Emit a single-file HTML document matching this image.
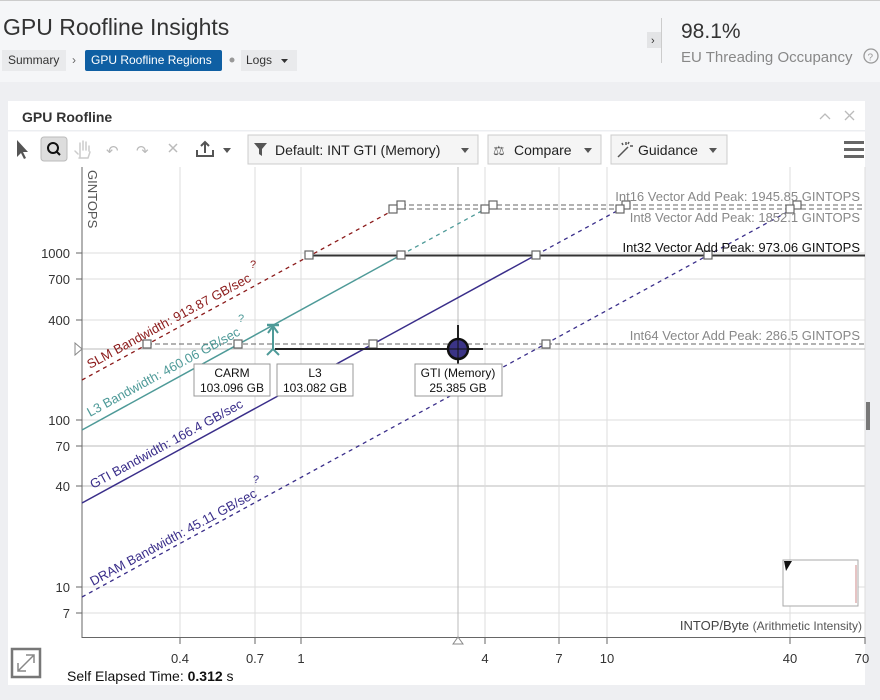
<!DOCTYPE html>
<html><head><meta charset="utf-8"><style>
body{margin:0;width:880px;height:695px;overflow:hidden;background:#eeeff2;font-family:"Liberation Sans",sans-serif;}
</style></head><body>
<svg width="880" height="695" xmlns="http://www.w3.org/2000/svg" font-family="Liberation Sans, sans-serif">
<rect x="0" y="0" width="880" height="82" fill="#f5f6f8"/>
<rect x="0" y="0" width="880" height="1" fill="#ccc"/>
<text x="3" y="35" font-size="23" fill="#333">GPU Roofline Insights</text>
<rect x="2" y="50" width="64" height="21" fill="#e9eaec"/>
<text x="8" y="64" font-size="12" fill="#333">Summary</text>
<text x="72" y="64" font-size="12" fill="#666">›</text>
<rect x="85" y="50" width="137" height="21" rx="2" fill="#0f5fa3"/>
<text x="91" y="64" font-size="12" fill="#fff">GPU Roofline Regions</text>
<circle cx="232" cy="60" r="2.5" fill="#999"/>
<rect x="241" y="50" width="56" height="21" fill="#e9eaec"/>
<text x="246" y="64" font-size="12" fill="#333">Logs</text>
<path d="M281 59 h7 l-3.5 4z" fill="#333"/>
<rect x="647" y="32" width="14" height="16" fill="#e3e4e6"/>
<text x="651" y="44" font-size="11" fill="#333">›</text>
<rect x="661" y="18" width="1" height="45" fill="#ccc"/>
<text x="681" y="38" font-size="21" fill="#333">98.1%</text>
<text x="681" y="62" font-size="15" fill="#888">EU Threading Occupancy</text>
<circle cx="871" cy="56" r="7" fill="none" stroke="#999" stroke-width="1.3"/>
<text x="867.5" y="60.5" font-size="10" fill="#999">?</text>
<rect x="8" y="101" width="857" height="584" fill="#fff"/>
<text x="22" y="122" font-size="14" font-weight="bold" fill="#333">GPU Roofline</text>
<path d="M820 119 l5 -5 5 5" stroke="#bbb" stroke-width="1.3" fill="none"/>
<path d="M845 111 l9 9 M854 111 l-9 9" stroke="#bbb" stroke-width="1.3"/>
<rect x="8" y="130" width="857" height="1.5" fill="#eceef1"/>
<!-- toolbar -->
<path d="M17 140 l0 17 l4-4 l3 6 l2-1 l-3-6 l5 0z" fill="#555"/>
<rect x="41" y="137" width="26" height="24" rx="3" fill="#ddd" stroke="#bbb"/>
<circle cx="53" cy="148" r="5" fill="none" stroke="#111" stroke-width="2"/>
<path d="M56 151 l4 4" stroke="#111" stroke-width="2"/>
<path d="M80 158 v-8 M80 150 v-7 M83 150 v-9 M86 150 v-8 M89 151 v-5 M78 154 l-3 -3 M79 158 h9 l2 -6" stroke="#ccc" stroke-width="1.5" fill="none" stroke-linecap="round"/>
<text x="106" y="156" font-size="15" fill="#bbb">↶</text>
<text x="136" y="156" font-size="15" fill="#bbb">↷</text>
<path d="M169 144 l8 8 M177 144 l-8 8" stroke="#bbb" stroke-width="1.5"/>
<path d="M197 150 v6 h16 v-6 M205 153 v-11 M201 146 l4-4 4 4" stroke="#555" stroke-width="2" fill="none"/>
<path d="M223 148 h8 l-4 5z" fill="#555"/>
<rect x="248" y="135" width="230" height="29" fill="#f5f5f5" stroke="#ccc"/>
<path d="M254 143 h13 l-5 6 v7 l-3 -2 v-5z" fill="#555"/>
<text x="275" y="155" font-size="14" fill="#222">Default: INT GTI (Memory)</text>
<path d="M461 148 h8 l-4 5z" fill="#555"/>
<rect x="488" y="135" width="113" height="29" fill="#f5f5f5" stroke="#ccc"/>
<text x="493" y="155" font-size="13" fill="#555">⚖</text>
<text x="514" y="155" font-size="14" fill="#222">Compare</text>
<path d="M584 148 h8 l-4 5z" fill="#555"/>
<rect x="611" y="135" width="116" height="29" fill="#f5f5f5" stroke="#ccc"/>
<path d="M618 157 l10 -10 M626 142 v3 M630 146 h3 M622 143 l1 2 M629 142 l-1 2" stroke="#555" stroke-width="1.5"/>
<text x="638" y="155" font-size="14" fill="#222">Guidance</text>
<path d="M709 148 h8 l-4 5z" fill="#555"/>
<rect x="844" y="141" width="20" height="3" fill="#666"/><rect x="844" y="148" width="20" height="3" fill="#666"/><rect x="844" y="155" width="20" height="3" fill="#666"/>
<!-- grid -->
<g stroke="#ddd" stroke-width="1">
<line x1="180" y1="167" x2="180" y2="637"/><line x1="255" y1="167" x2="255" y2="637"/><line x1="301" y1="167" x2="301" y2="637"/>
<line x1="485" y1="167" x2="485" y2="637"/><line x1="559" y1="167" x2="559" y2="637"/><line x1="607" y1="167" x2="607" y2="637"/><line x1="790" y1="167" x2="790" y2="637"/><line x1="865" y1="167" x2="865" y2="637"/>
<line x1="82" y1="253" x2="865" y2="253"/><line x1="82" y1="279" x2="865" y2="279"/><line x1="82" y1="320" x2="865" y2="320"/><line x1="82" y1="420" x2="865" y2="420"/><line x1="82" y1="587" x2="865" y2="587"/><line x1="82" y1="613" x2="865" y2="613"/>
</g>
<line x1="82" y1="446" x2="865" y2="446" stroke="#ddd" stroke-width="2"/>
<line x1="82" y1="486" x2="865" y2="486" stroke="#ddd" stroke-width="2"/>
<line x1="458" y1="167" x2="458" y2="637" stroke="#bbb"/>
<line x1="82" y1="349" x2="865" y2="349" stroke="#bbb"/>
<!-- axes -->
<line x1="82" y1="167" x2="82" y2="638" stroke="#666"/>
<line x1="82" y1="637.5" x2="865" y2="637.5" stroke="#666"/>
<g stroke="#666"><line x1="180" y1="637" x2="180" y2="644"/><line x1="255" y1="637" x2="255" y2="644"/><line x1="301" y1="637" x2="301" y2="644"/><line x1="485" y1="637" x2="485" y2="644"/><line x1="559" y1="637" x2="559" y2="644"/><line x1="607" y1="637" x2="607" y2="644"/><line x1="790" y1="637" x2="790" y2="644"/><line x1="865" y1="637" x2="865" y2="644"/>
<line x1="76" y1="253" x2="82" y2="253"/><line x1="76" y1="279" x2="82" y2="279"/><line x1="76" y1="320" x2="82" y2="320"/><line x1="76" y1="420" x2="82" y2="420"/><line x1="76" y1="446" x2="82" y2="446"/><line x1="76" y1="486" x2="82" y2="486"/><line x1="76" y1="587" x2="82" y2="587"/><line x1="76" y1="613" x2="82" y2="613"/></g>
<g font-size="13" fill="#333" text-anchor="end">
<text x="70" y="258">1000</text><text x="70" y="284">700</text><text x="70" y="325">400</text><text x="70" y="425">100</text><text x="70" y="451">70</text><text x="70" y="491">40</text><text x="70" y="592">10</text><text x="70" y="618">7</text></g>
<g font-size="13" fill="#333" text-anchor="middle">
<text x="180" y="663">0.4</text><text x="255" y="663">0.7</text><text x="301" y="663">1</text><text x="485" y="663">4</text><text x="559" y="663">7</text><text x="607" y="663">10</text><text x="790" y="663">40</text><text x="862" y="663">70</text></g>
<text transform="translate(88,170) rotate(90)" font-size="13" fill="#555">GINTOPS</text>
<text x="862" y="630" font-size="13" fill="#444" text-anchor="end">INTOP/Byte <tspan font-size="12" fill="#555">(Arithmetic Intensity)</tspan></text>
<path d="M75 343 l7 6 -7 6z" fill="#fff" stroke="#888"/>
<path d="M453 644 l5 -7 5 7z" fill="#fff" stroke="#888"/>
<!-- roofs -->
<line x1="401" y1="205" x2="865" y2="205" stroke="#666" stroke-dasharray="5,3"/>
<line x1="393" y1="209" x2="865" y2="209" stroke="#666" stroke-dasharray="5,3"/>
<line x1="309" y1="255.5" x2="865" y2="255.5" stroke="#333" stroke-width="2"/>
<line x1="147" y1="344" x2="865" y2="344" stroke="#666" stroke-dasharray="5,3"/>
<!-- bandwidths -->
<line x1="82" y1="380" x2="401" y2="206" stroke="#8b1a1a" stroke-dasharray="4,4" stroke-width="1.3"/>
<line x1="82" y1="430" x2="401" y2="255" stroke="#4e9a98" stroke-width="1.5"/>
<line x1="401" y1="255" x2="489" y2="207" stroke="#4e9a98" stroke-dasharray="4,4" stroke-width="1.3"/>
<line x1="82" y1="503" x2="536" y2="255" stroke="#3a2e8a" stroke-width="1.5"/>
<line x1="536" y1="255" x2="626" y2="206" stroke="#3a2e8a" stroke-dasharray="4,4" stroke-width="1.3"/>
<line x1="82" y1="597" x2="800" y2="205" stroke="#3a2e8a" stroke-dasharray="4,4" stroke-width="1.3"/>
<g fill="#fff" stroke="#666" stroke-width="1.2">
<rect x="305" y="251" width="8" height="8"/><rect x="397" y="251" width="8" height="8"/><rect x="532" y="251" width="8" height="8"/><rect x="704" y="251" width="8" height="8"/>
<rect x="397" y="201" width="8" height="8"/><rect x="389" y="205" width="8" height="8"/><rect x="489" y="201" width="8" height="8"/><rect x="481" y="205" width="8" height="8"/><rect x="622" y="201" width="8" height="8"/><rect x="616" y="205" width="8" height="8"/><rect x="793" y="201" width="8" height="8"/><rect x="786" y="205" width="8" height="8"/>
<rect x="143" y="340" width="8" height="8"/><rect x="234" y="340" width="8" height="8"/><rect x="369" y="340" width="8" height="8"/><rect x="542" y="340" width="8" height="8"/></g>
<g font-size="13" fill="#555" text-anchor="end">
<text x="860" y="201" fill="#888">Int16 Vector Add Peak: 1945.85 GINTOPS</text>
<text x="860" y="222" fill="#888">Int8 Vector Add Peak: 1852.1 GINTOPS</text>
<text x="860" y="252" fill="#111">Int32 Vector Add Peak: 973.06 GINTOPS</text>
<text x="860" y="340" fill="#888">Int64 Vector Add Peak: 286.5 GINTOPS</text></g>
<g font-size="13">
<text transform="translate(90,369) rotate(-28.6)" fill="#8b1a1a">SLM Bandwidth: 913.87 GB/sec</text>
<text transform="translate(90,417) rotate(-28.6)" fill="#4e9a98">L3 Bandwidth: 460.06 GB/sec</text>
<text transform="translate(93,489) rotate(-28.6)" fill="#3a2e8a">GTI Bandwidth: 166.4 GB/sec</text>
<text transform="translate(93,586) rotate(-28.6)" fill="#3a2e8a">DRAM Bandwidth: 45.11 GB/sec</text>
<text x="250" y="268" fill="#8b1a1a" font-size="11">?</text>
<text x="238" y="322" fill="#4e9a98" font-size="11">?</text>
<text x="253" y="483" fill="#3a2e8a" font-size="11">?</text></g>
<!-- point -->
<line x1="275" y1="349" x2="483" y2="349" stroke="#222" stroke-width="2"/>
<line x1="458" y1="325" x2="458" y2="373" stroke="#222" stroke-width="2"/>
<circle cx="458" cy="349" r="10" fill="#3b3486" stroke="#111" stroke-width="2.5"/>
<line x1="449" y1="349" x2="467" y2="349" stroke="#111"/><line x1="458" y1="340" x2="458" y2="358" stroke="#111"/>
<line x1="273" y1="326" x2="273" y2="350" stroke="#4e9a98" stroke-width="2"/>
<line x1="267" y1="325" x2="279" y2="325" stroke="#4e9a98" stroke-width="2.5"/>
<path d="M268 333 l5 -7 5 7 M267 355 l6 -6 6 6" stroke="#4e9a98" stroke-width="2" fill="none"/>
<g font-size="12" fill="#111" text-anchor="middle">
<rect x="194" y="364" width="76" height="32" fill="#fff" stroke="#999"/>
<text x="232" y="377">CARM</text><text x="232" y="392">103.096 GB</text>
<rect x="277" y="364" width="76" height="32" fill="#fff" stroke="#999"/>
<text x="315" y="377">L3</text><text x="315" y="392">103.082 GB</text>
<rect x="415" y="364" width="87" height="32" fill="#fff" stroke="#999"/>
<text x="458" y="377">GTI (Memory)</text><text x="458" y="392">25.385 GB</text></g>
<!-- minimap -->
<rect x="783" y="560" width="75" height="46" fill="#fff" stroke="#aaa"/>
<path d="M784 561 h8 l-6 10z" fill="#111"/>
<line x1="856" y1="565" x2="856" y2="603" stroke="#c88"/>
<rect x="866" y="402" width="4" height="28" fill="#777"/>
<rect x="12" y="649" width="28" height="28" fill="none" stroke="#777" stroke-width="2.5"/>
<path d="M18 671 l16 -16 M18 663 v8 h8 M34 663 v-8 h-8" stroke="#888" stroke-width="1.5" fill="none"/>
<text x="67" y="681" font-size="14" fill="#111">Self Elapsed Time: <tspan font-weight="bold">0.312</tspan> s</text>
</svg>
</body></html>
